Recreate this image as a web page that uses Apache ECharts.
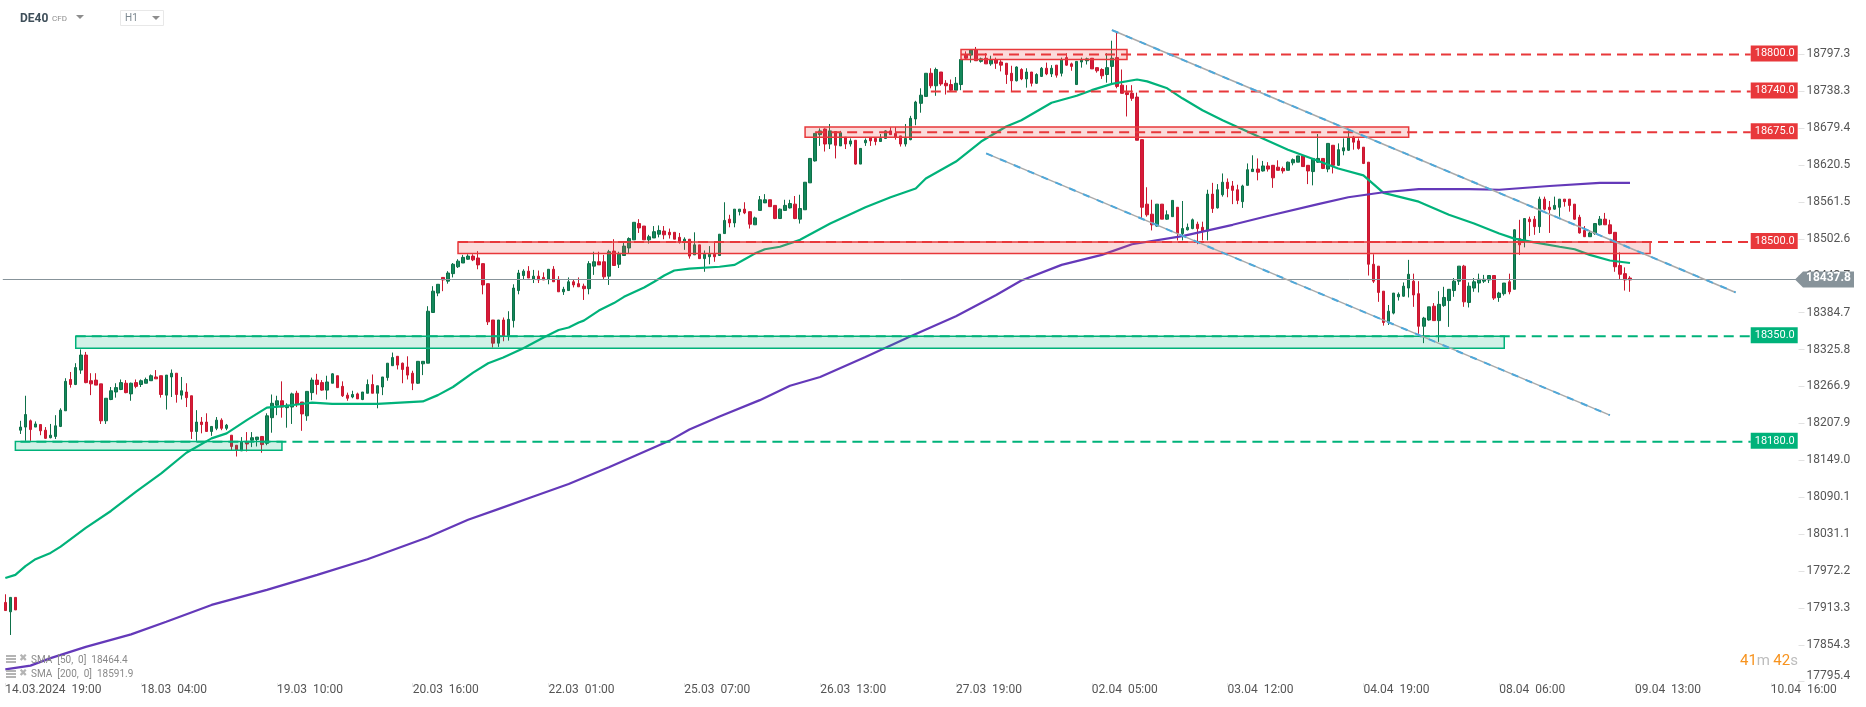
<!DOCTYPE html>
<html>
<head>
<meta charset="utf-8">
<title>DE40 H1</title>
<script src="https://cdn.jsdelivr.net/npm/echarts@6/dist/echarts.min.js"></script>
<style>
html, body { margin: 0; padding: 0; background: #fff; }
#chart { width: 1866px; height: 707px; }
</style>
</head>
<body>
<div id="chart"></div>
<script>
/*------------------------------ data ------------------------------*/
// open, close, low, high per hourly candle
var candles = [
[17922,17909,17909,17935],[17907,17930,17870,17930],[17930,17910,17910,17930],[18197,18202,18191,18212],
[18202,18222,18180,18252],[18212,18198,18180,18214],[18202,18207,18202,18211],[18206,18196,18189,18206],
[18197,18184,18183,18202],[18185,18189,18184,18207],[18187,18204,18183,18221],[18203,18229,18202,18232],
[18228,18275,18228,18280],[18278,18270,18265,18290],[18270,18297,18269,18304],[18293,18317,18287,18326],
[18317,18273,18272,18322],[18276,18271,18253,18288],[18277,18269,18269,18288],[18271,18212,18207,18271],
[18212,18248,18207,18248],[18246,18260,18245,18266],[18258,18265,18249,18272],[18262,18273,18261,18278],
[18272,18257,18256,18277],[18255,18272,18244,18273],[18273,18267,18264,18278],[18270,18276,18266,18278],
[18272,18278,18272,18281],[18276,18284,18276,18286],[18282,18279,18279,18293],[18284,18254,18249,18284],
[18253,18285,18230,18285],[18282,18288,18250,18294],[18288,18254,18241,18288],[18253,18260,18246,18282],
[18258,18249,18234,18272],[18252,18195,18183,18252],[18195,18210,18180,18229],[18210,18206,18192,18218],
[18210,18195,18195,18224],[18195,18203,18188,18203],[18200,18213,18197,18218],[18213,18200,18197,18216],
[18200,18205,18197,18207],[18189,18171,18165,18189],[18173,18165,18155,18173],[18164,18179,18164,18186],
[18178,18175,18163,18194],[18181,18185,18170,18194],[18182,18186,18171,18186],[18187,18174,18161,18187],
[18176,18220,18173,18224],[18217,18240,18193,18254],[18237,18244,18221,18252],[18244,18234,18217,18275],
[18233,18237,18201,18240],[18234,18255,18207,18257],[18256,18239,18234,18260],[18242,18223,18196,18242],
[18220,18259,18212,18259],[18257,18277,18245,18281],[18277,18270,18254,18287],[18273,18261,18260,18277],
[18261,18274,18246,18284],[18272,18287,18272,18288],[18284,18265,18265,18284],[18267,18252,18250,18275],
[18253,18248,18244,18257],[18250,18254,18248,18260],[18255,18247,18247,18257],[18246,18258,18245,18258],
[18256,18270,18256,18278],[18270,18256,18256,18286],[18256,18268,18232,18268],[18266,18282,18253,18282],
[18281,18304,18276,18304],[18300,18313,18300,18321],[18315,18301,18294,18315],[18304,18294,18272,18305],
[18298,18285,18278,18315],[18288,18272,18261,18292],[18272,18307,18271,18307],[18303,18307,18285,18307],
[18304,18387,18304,18395],[18385,18419,18385,18427],[18416,18430,18411,18430],[18441,18437,18419,18441],
[18435,18448,18431,18451],[18447,18462,18441,18464],[18458,18467,18456,18470],[18464,18473,18464,18477],
[18470,18475,18469,18478],[18475,18469,18467,18478],[18472,18461,18454,18483],[18463,18429,18414,18463],
[18431,18370,18365,18431],[18373,18336,18329,18373],[18336,18373,18330,18373],[18373,18347,18339,18377],
[18348,18374,18340,18387],[18372,18424,18361,18430],[18420,18448,18414,18453],[18444,18451,18437,18454],
[18451,18440,18440,18459],[18438,18443,18432,18453],[18443,18437,18432,18452],[18441,18437,18437,18449],
[18438,18454,18430,18454],[18454,18434,18434,18459],[18438,18418,18418,18443],[18418,18422,18413,18426],
[18420,18434,18420,18441],[18434,18429,18425,18438],[18431,18426,18426,18441],[18427,18423,18405,18431],
[18423,18463,18414,18467],[18459,18466,18445,18482],[18466,18461,18461,18482],[18466,18442,18438,18477],
[18443,18482,18429,18485],[18483,18460,18460,18502],[18462,18478,18456,18482],[18476,18491,18476,18497],
[18488,18503,18480,18505],[18501,18529,18501,18529],[18527,18520,18512,18534],[18523,18501,18501,18523],
[18501,18506,18495,18509],[18504,18514,18504,18523],[18510,18516,18505,18524],[18515,18509,18502,18523],
[18513,18509,18503,18519],[18513,18502,18502,18513],[18505,18497,18495,18512],[18498,18502,18485,18505],
[18502,18475,18471,18502],[18477,18493,18477,18513],[18493,18471,18471,18493],[18471,18478,18450,18484],
[18474,18478,18462,18491],[18478,18474,18466,18498],[18476,18510,18476,18510],[18511,18532,18511,18561],
[18534,18528,18521,18541],[18528,18550,18521,18550],[18546,18550,18540,18550],[18550,18544,18542,18561],
[18546,18526,18519,18546],[18525,18536,18525,18538],[18548,18565,18548,18571],[18560,18565,18560,18574],
[18565,18554,18554,18565],[18556,18535,18534,18556],[18535,18550,18535,18551],[18548,18556,18548,18565],
[18552,18559,18551,18565],[18558,18535,18534,18571],[18534,18551,18527,18573],[18549,18593,18549,18593],
[18592,18631,18592,18631],[18627,18671,18626,18671],[18669,18675,18651,18679],[18678,18654,18642,18679],
[18654,18675,18646,18686],[18674,18652,18631,18674],[18651,18672,18651,18675],[18665,18654,18646,18665],
[18654,18659,18650,18663],[18660,18622,18621,18660],[18622,18647,18622,18647],[18656,18660,18651,18663],
[18664,18659,18651,18664],[18663,18658,18652,18665],[18658,18663,18658,18670],[18663,18675,18662,18676],
[18675,18669,18669,18681],[18671,18665,18661,18681],[18667,18654,18650,18667],[18654,18663,18650,18686],
[18661,18695,18660,18699],[18694,18721,18684,18723],[18719,18732,18704,18743],[18730,18767,18730,18767],
[18767,18747,18743,18775],[18747,18773,18731,18776],[18769,18750,18747,18769],[18751,18747,18733,18756],
[18749,18740,18738,18757],[18740,18751,18740,18761],[18749,18789,18740,18789],[18796,18791,18789,18802],
[18796,18804,18784,18804],[18805,18787,18787,18809],[18786,18790,18784,18792],[18791,18782,18782,18799],
[18782,18788,18779,18795],[18789,18783,18774,18792],[18785,18780,18770,18788],[18783,18765,18750,18783],
[18767,18755,18738,18779],[18755,18777,18754,18778],[18773,18758,18756,18775],[18758,18769,18744,18775],
[18769,18751,18746,18769],[18751,18765,18750,18767],[18762,18775,18761,18777],[18775,18766,18764,18784],
[18766,18775,18761,18780],[18780,18764,18760,18780],[18767,18789,18762,18792],[18792,18780,18779,18799],
[18782,18778,18771,18784],[18749,18786,18749,18786],[18785,18788,18776,18792],[18787,18790,18781,18792],
[18791,18774,18774,18791],[18776,18771,18768,18776],[18773,18763,18758,18775],[18765,18776,18752,18799],
[18778,18791,18751,18819],[18792,18746,18743,18834],[18748,18735,18735,18773],[18736,18733,18698,18748],
[18735,18727,18723,18748],[18729,18660,18660,18736],[18661,18553,18535,18661],[18558,18541,18538,18585],
[18542,18525,18516,18565],[18523,18558,18522,18558],[18558,18534,18534,18558],[18534,18541,18533,18548],
[18538,18564,18538,18564],[18553,18511,18500,18553],[18511,18519,18500,18563],[18517,18521,18516,18527],
[18519,18533,18518,18535],[18526,18519,18494,18530],[18521,18515,18500,18530],[18515,18574,18500,18581],
[18574,18551,18544,18592],[18552,18581,18551,18590],[18573,18593,18570,18607],[18593,18583,18569,18599],
[18587,18580,18558,18595],[18581,18564,18558,18589],[18562,18587,18552,18589],[18588,18613,18588,18623],
[18610,18614,18610,18636],[18614,18609,18596,18631],[18611,18619,18610,18627],[18619,18614,18610,18625],
[18620,18600,18584,18620],[18617,18612,18612,18628],[18615,18611,18607,18618],[18612,18625,18612,18626],
[18624,18629,18620,18631],[18625,18635,18625,18635],[18635,18618,18618,18635],[18620,18611,18590,18620],
[18610,18631,18588,18631],[18625,18631,18624,18670],[18631,18615,18614,18631],[18614,18655,18609,18655],
[18652,18620,18607,18652],[18620,18645,18619,18655],[18643,18648,18636,18663],[18644,18664,18643,18676],
[18665,18657,18645,18667],[18659,18647,18645,18663],[18649,18623,18622,18649],[18625,18462,18444,18625],
[18462,18435,18432,18478],[18459,18417,18402,18459],[18419,18369,18364,18419],[18370,18387,18365,18397],
[18384,18416,18382,18416],[18410,18414,18404,18417],[18411,18427,18410,18433],[18424,18446,18409,18469],
[18435,18413,18394,18447],[18415,18363,18351,18435],[18363,18376,18336,18378],[18373,18394,18372,18394],
[18395,18372,18372,18400],[18372,18398,18338,18419],[18396,18409,18394,18426],[18404,18422,18362,18422],
[18420,18435,18410,18440],[18435,18459,18429,18459],[18459,18402,18394,18461],[18401,18427,18393,18433],
[18424,18434,18418,18440],[18432,18438,18417,18447],[18435,18438,18432,18445],[18437,18444,18432,18444],
[18444,18408,18405,18444],[18409,18416,18402,18418],[18415,18432,18412,18432],[18434,18418,18414,18447],
[18422,18517,18422,18518],[18503,18493,18477,18533],[18500,18535,18489,18535],[18534,18530,18507,18538],
[18534,18522,18509,18539],[18522,18566,18512,18570],[18566,18550,18548,18570],[18553,18549,18512,18563],
[18550,18556,18549,18570],[18553,18566,18538,18566],[18566,18562,18554,18566],[18566,18556,18546,18566],
[18558,18534,18533,18558],[18537,18512,18511,18541],[18516,18506,18506,18523],[18506,18512,18506,18516],
[18511,18527,18509,18527],[18525,18534,18524,18539],[18534,18525,18525,18544],[18525,18511,18510,18533],
[18513,18458,18450,18513],[18460,18446,18438,18481],[18447,18437,18420,18457],[18440,18437,18418,18443]
];

// [candle index, price]
var sma50 = [[0,17961],[2,17966],[4,17980],[6,17991],[9,18001],[11,18011],[16,18041],[21,18068],[26,18099],[31,18128],
[36,18161],[41,18184],[44,18192],[48,18213],[52,18233],[56,18236],[61,18241],[65,18239],[74,18239],[83,18243],
[86,18253],[89,18266],[93,18289],[96,18304],[99,18313],[103,18328],[107,18345],[110,18357],[112,18361],[114,18369],
[115,18372],[118,18388],[121,18400],[123,18410],[127,18425],[129,18434],[131,18444],[133,18452],[136,18455],[142,18458],
[145,18461],[147,18470],[149,18479],[151,18486],[154,18490],[158,18501],[164,18527],[168,18542],[171,18553],[176,18569],
[181,18583],[183,18599],[189,18626],[194,18658],[199,18682],[202,18692],[208,18720],[213,18731],[216,18740],[220,18750],
[225,18757],[227,18754],[231,18743],[234,18727],[238,18708],[242,18692],[250,18663],[255,18645],[260,18630],[265,18615],
[270,18604],[274,18576],[281,18562],[287,18541],[292,18527],[297,18511],[300,18503],[304,18497],[309,18490],[312,18486],
[315,18477],[319,18468],[323,18464]];

var sma200 = [[0,17815],[5,17821],[9,17833],[16,17851],[25,17871],[32,17891],[41,17918],[52,17942],[62,17966],[72,17991],
[84,18026],[92,18054],[98,18071],[105,18091],[112,18111],[120,18138],[126,18159],[132,18180],[136,18198],[142,18219],
[150,18245],[156,18268],[162,18282],[171,18314],[180,18347],[189,18379],[197,18413],[202,18436],[210,18461],[218,18477],
[224,18494],[234,18507],[244,18525],[251,18539],[261,18558],[267,18569],[274,18577],[281,18582],[291,18582],[297,18581],
[307,18587],[317,18592],[323,18592]];

var xTickLabels = ['14.03.2024  19:00', '18.03  04:00', '19.03  10:00', '20.03  16:00', '22.03  01:00', '25.03  07:00', '26.03  13:00',
    '27.03  19:00', '02.04  05:00', '03.04  12:00', '04.04  19:00', '08.04  06:00', '09.04  13:00', '10.04  16:00'];
var yTickLabels = [17795.4, 17854.3, 17913.3, 17972.2, 18031.1, 18090.1, 18149.0, 18207.9, 18266.9, 18325.8, 18384.7, 18443.7,
    18502.6, 18561.5, 18620.5, 18679.4, 18738.3, 18797.3];
var lastPrice = 18437.8;

// drawn levels: start candle, price on the axis, text of the tag
var redLevels = [[190, 18797, '18800.0'], [184, 18738, '18740.0'], [161, 18673, '18675.0'], [90, 18497.5, '18500.0']];
var greenLevels = [[14, 18347, '18350.0'], [3, 18178.5, '18180.0']];
var levelEnd = 347;

// drawn boxes: from candle, to candle, top price, bottom price
var redZones = [[190, 223, 18805, 18789], [159, 279, 18681, 18665], [90, 327, 18497.5, 18479]];
var greenZones = [[14, 298, 18347, 18328], [2, 55, 18179, 18165]];

// drawn channel lines
var channelTop = [[220, 18836], [344, 18417]];
var channelBottom = [[195, 18639], [319, 18221]];

var slotsPerTick = 27;
var slotCount = 357;
/*---------------------------------------------------------------------------------------*/

var categories = [];
for (var n = 0; n < slotCount; n++) {
    categories.push(n % slotsPerTick === 0 ? (xTickLabels[n / slotsPerTick] || '') : '');
}

var RED = '#e8383b';
var GREEN = '#00b27a';

function levelSeries(level, color) {
    return {
        type: 'line',
        data: [[level[0], level[1]], [levelEnd, level[1]]],
        showSymbol: false,
        silent: true,
        z: 6,
        lineStyle: { color: color, width: 2, type: [10, 6] },
        endLabel: {
            show: true,
            formatter: level[2],
            position: 'right',
            distance: 0,
            offset: [0, -1],
            color: '#fff',
            backgroundColor: color,
            fontFamily: 'Roboto',
            fontSize: 11,
            padding: [3, 3, 2, 4]
        }
    };
}

function channelSeries(points) {
    return [{
        type: 'line',
        data: points,
        showSymbol: false,
        silent: true,
        z: 6,
        lineStyle: { color: '#a9a9a9', width: 1.5 }
    }, {
        type: 'line',
        data: points,
        showSymbol: false,
        silent: true,
        z: 6,
        lineStyle: { color: '#4ea8da', width: 2, type: [7, 8] }
    }];
}

function zoneItems(zones, fill, border) {
    return zones.map(function (z) {
        var style = { color: fill, borderColor: border, borderWidth: 1.5 };
        return [{ coord: [z[0], z[2]], itemStyle: style }, { coord: [z[1], z[3]] }];
    });
}

var chart = echarts.init(document.getElementById('chart'));

var series = [{
    type: 'candlestick',
    data: candles,
    barWidth: 3,
    z: 3,
    itemStyle: {
        color: '#13885b',
        color0: '#d7193a',
        borderColor: '#0e7049',
        borderColor0: '#c9182f',
        borderWidth: 1
    },
    markLine: {
        silent: true,
        symbol: 'none',
        animation: false,
        label: { show: false },
        lineStyle: { color: '#87939a', width: 1, type: 'solid' },
        data: [{ yAxis: lastPrice }]
    },
    markArea: {
        silent: true,
        z: 5,
        data: zoneItems(redZones, 'rgba(236,92,88,0.22)', RED).concat(zoneItems(greenZones, 'rgba(0,178,122,0.18)', GREEN))
    }
}, {
    type: 'line',
    data: sma50,
    showSymbol: false,
    silent: true,
    z: 4,
    lineStyle: { color: GREEN, width: 2.2 }
}, {
    type: 'line',
    data: sma200,
    showSymbol: false,
    silent: true,
    z: 4,
    lineStyle: { color: '#6439b9', width: 2.2 }
}];

redLevels.forEach(function (l) { series.push(levelSeries(l, RED)); });
greenLevels.forEach(function (l) { series.push(levelSeries(l, GREEN)); });
series = series.concat(channelSeries(channelTop), channelSeries(channelBottom));

chart.setOption({
    animation: false,
    textStyle: { fontFamily: 'Roboto' },
    grid: { left: 2.8, top: 0, width: 1795.7, height: 683 },
    xAxis: {
        type: 'category',
        data: categories,
        boundaryGap: true,
        axisLine: { show: false },
        axisTick: {
            show: true,
            length: 4,
            interval: function (i) { return i % slotsPerTick === 0; },
            alignWithLabel: true,
            lineStyle: { color: '#e6e6e6' }
        },
        axisLabel: {
            interval: function (i) { return i % slotsPerTick === 0; },
            align: 'left',
            margin: 1,
            color: '#555',
            fontFamily: 'Roboto',
            fontSize: 12,
            lineHeight: 12
        },
        splitLine: { show: false }
    },
    yAxis: {
        type: 'value',
        position: 'right',
        min: 17793.3,
        max: 18884,
        axisLine: { show: false },
        splitLine: { show: false },
        axisTick: {
            show: true,
            length: 6,
            customValues: yTickLabels,
            lineStyle: { color: '#e2e2e2' }
        },
        axisLabel: {
            customValues: yTickLabels,
            formatter: function (v) { return v.toFixed(1); },
            margin: 8,
            color: '#555',
            fontFamily: 'Roboto',
            fontSize: 12,
            verticalAlignMinLabel: 'bottom'
        }
    },
    series: series
});

// price tag, header and legend of the platform around the plot
function menuIcon(y) {
    return [0, 3, 6].map(function (d) {
        return { type: 'rect', z: 20, shape: { x: 6, y: y + d, width: 10, height: 2 }, style: { fill: '#b4b4b4' } };
    }).concat([{
        type: 'text', z: 20, x: 19, y: y - 2,
        style: { text: '✖', fill: '#b4b4b4', font: '10px "DejaVu Sans"' }
    }]);
}

var tagY = chart.convertToPixel({ yAxisIndex: 0 }, lastPrice);
var gfx = [
    { type: 'polygon', zlevel: 1, z: 20, shape: { points: [[1795, tagY], [1803, tagY - 8], [1854, tagY - 8], [1854, tagY + 8], [1803, tagY + 8]] }, style: { fill: '#87939a' } },
    { type: 'text', zlevel: 1, z: 21, x: 1806, y: tagY - 7, style: { text: String(lastPrice), fill: '#fff', font: 'bold 12px Roboto' } },
    { type: 'text', z: 20, x: 20, y: 13, style: { text: 'DE40', fill: '#3f4f5a', font: 'bold 12px Roboto' } },
    { type: 'text', z: 20, x: 52, y: 15, style: { text: 'CFD', fill: '#8d8d8d', font: '8px Roboto' } },
    { type: 'polygon', z: 20, shape: { points: [[76, 15], [84, 15], [80, 19]] }, style: { fill: '#8d8d8d' } },
    { type: 'rect', z: 20, shape: { x: 120.5, y: 10.5, width: 43, height: 15 }, style: { fill: '#fff', stroke: '#e8e8e8', lineWidth: 1 } },
    { type: 'text', z: 21, x: 125, y: 13, style: { text: 'H1', fill: '#7c8890', font: '10px Roboto' } },
    { type: 'polygon', z: 21, shape: { points: [[152, 16], [160, 16], [156, 20]] }, style: { fill: '#8d8d8d' } },
    { type: 'text', z: 20, x: 31, y: 655, style: { text: 'SMA  [50,  0]  18464.4', fill: '#8a8a8a', font: '10px Roboto' } },
    { type: 'text', z: 20, x: 31, y: 669, style: { text: 'SMA  [200,  0]  18591.9', fill: '#8a8a8a', font: '10px Roboto' } },
    { type: 'text', z: 20, x: 1740, y: 654, style: {
        text: '{o|41}{g|m} {o|42}{g|s}',
        rich: {
            o: { fill: '#f7931e', font: '15px Roboto' },
            g: { fill: '#bdbdbd', font: '15px Roboto' }
        }
    } }
].concat(menuIcon(655), menuIcon(670));

chart.setOption({ graphic: { elements: gfx } });
</script>
</body>
</html>
